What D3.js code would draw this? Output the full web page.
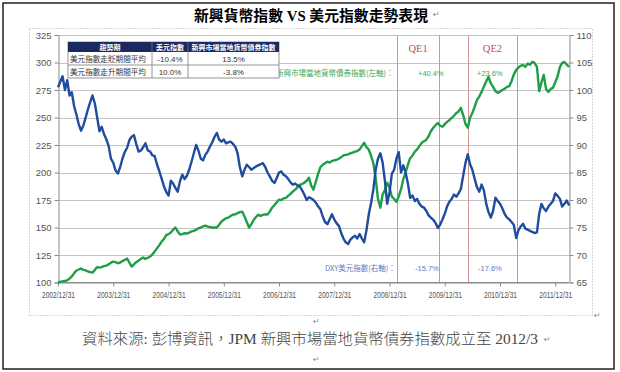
<!DOCTYPE html>
<html>
<head>
<meta charset="utf-8">
<script src="https://cdn.jsdelivr.net/npm/d3@7"></script>
<style>
body{margin:0;background:#fff;}
svg{display:block;}
</style>
</head>
<body>
<svg id="chart" width="620" height="372"></svg>
<script>
// tick labels
const xTickLabels = ["2002/12/31","2003/12/31","2004/12/31","2005/12/31","2006/12/31","2007/12/31","2008/12/31","2009/12/31","2010/12/31","2011/12/31"];
const leftTicks = [100,125,150,175,200,225,250,275,300,325];
const rightTicks = [65,70,75,80,85,90,95,100,105,110];

// half-monthly readings from 2002/12/31 to 2012/3/31
const dxyValues = [
  100.5,101.5,102.5,100.0,101.8,99.0,99.6,97.0,95.5,93.8,92.6,93.5,95.0,96.5,97.8,99.0,97.5,95.0,92.5,93.3,92.0,91.0,89.8,87.5,
  86.8,85.4,84.8,86.0,87.5,88.7,89.5,90.9,91.5,91.8,90.2,88.8,89.0,89.6,90.3,89.0,88.8,88.1,88.0,86.5,85.2,83.9,82.5,81.5,
  80.8,83.5,83.0,82.2,81.5,83.5,84.6,83.8,84.4,85.5,87.0,88.5,90.0,89.0,87.5,87.2,88.2,88.8,89.7,90.5,91.5,92.2,91.0,90.6,
  91.0,90.3,90.5,90.6,90.2,89.7,88.5,86.0,84.3,85.5,86.4,86.0,85.5,85.8,86.1,86.3,86.5,86.7,86.0,85.0,84.3,83.5,83.1,84.0,
  85.0,85.2,84.6,84.3,83.8,83.2,82.8,83.0,82.6,82.5,81.8,81.0,80.0,80.5,80.3,80.0,79.5,78.8,78.3,77.0,76.0,75.6,76.5,77.4,
  76.5,75.8,75.3,74.0,73.0,72.3,72.0,72.8,73.2,73.5,73.0,73.8,73.0,72.3,74.5,77.5,79.5,82.0,85.5,87.5,88.5,86.8,83.5,79.3,
  81.5,84.8,85.5,87.5,88.7,85.0,86.3,85.0,83.0,80.4,80.8,79.8,80.2,79.3,78.8,78.6,78.0,77.2,76.8,76.4,75.8,74.9,75.5,76.5,
  77.5,78.8,79.7,80.2,81.0,80.6,81.2,82.0,84.5,86.8,88.3,86.5,85.5,83.8,82.3,81.5,82.8,81.8,79.3,77.8,76.8,78.0,80.4,79.8,
  79.3,78.5,77.5,76.8,76.5,76.0,75.5,73.1,74.5,75.2,75.7,74.8,74.6,74.4,74.2,74.0,74.1,77.5,79.3,78.5,78.0,78.8,79.3,79.8,
  81.2,80.8,80.2,78.8,79.3,79.9,79.0
];
const emValues = [
  100.0,100.5,101.0,101.5,102.0,103.5,105.5,108.5,110.9,111.8,112.7,111.5,111.0,110.0,109.5,109.0,111.5,114.0,113.5,114.0,115.0,115.4,116.5,118.0,
  119.0,118.5,117.5,118.1,119.5,120.5,121.8,118.0,114.5,116.5,118.5,120.0,121.5,122.7,121.5,122.5,123.6,125.5,128.1,131.0,134.0,137.2,139.5,143.0,
  144.0,145.5,148.0,150.0,146.5,143.6,144.0,144.8,144.5,145.4,146.5,147.0,148.0,149.2,150.0,151.0,151.7,150.8,150.5,149.8,150.0,150.0,152.5,155.5,
  157.0,158.5,159.0,160.5,161.7,162.0,163.0,164.0,164.4,160.0,155.0,150.0,153.0,157.0,159.5,161.7,160.5,161.5,162.0,161.7,164.5,168.0,170.5,173.0,
  175.3,175.0,176.5,177.0,179.0,180.5,182.6,184.5,186.5,189.0,189.5,190.7,192.5,195.3,188.0,184.4,192.0,199.0,205.0,207.0,208.5,209.8,209.0,210.5,
  211.0,211.6,212.5,214.0,215.5,216.0,216.5,217.5,218.0,218.9,219.5,221.0,224.0,227.0,223.0,220.7,215.0,208.0,195.0,176.0,168.0,180.0,184.0,190.7,
  186.0,178.0,176.0,173.5,178.0,185.0,194.0,200.0,207.0,213.0,215.5,218.9,221.0,224.0,227.0,228.5,229.8,233.0,237.5,240.7,243.0,245.0,242.5,241.6,
  244.0,246.0,247.5,249.7,251.5,254.0,255.5,258.8,252.0,244.0,240.7,249.7,254.0,260.0,266.0,269.0,273.3,278.0,283.0,287.0,281.0,277.9,274.0,272.4,
  273.5,275.0,276.0,277.9,278.5,283.0,289.0,293.3,295.5,297.0,297.8,296.0,299.0,298.0,300.5,299.6,296.0,274.0,282.0,288.7,276.0,273.3,276.0,277.0,
  282.0,287.0,296.0,299.6,300.5,298.0,296.0
];

// QE period markers
const qeDates = ["2009/02/18","2009/11/23","2010/06/02","2011/04/22"];
const qeLabels = ["QE1","QE2"];
const emChanges = ["+40.4%","+23.6%"];
const dxyChanges = ["-15.7%","-17.6%"];

const tableHead = ["趨勢期","美元指數","新興市場當地貨幣債券指數"];
const tableRows = [
  ["美元指數走貶期間平均","-10.4%","13.5%"],
  ["美元指數走升期間平均","10.0%","-3.8%"]
];

const parse = d3.timeParse("%Y/%m/%d");
const start = parse("2002/12/31");
const dayOf = (i) => d3.timeDay.offset(start, Math.round(i * 365.25 / 24));

const svg = d3.select("#chart");
const numFont = "'Liberation Sans', Arial, sans-serif";
const cjkFont = "'Noto Sans CJK TC', sans-serif";
const serifFont = "'Liberation Serif', 'Noto Sans CJK TC', serif";

margin = {left: 58, right: 51, top: 35, bottom: 90};
const plotW = 620 - margin.left - margin.right;
const plotB = 372 - margin.bottom;

let x = d3.scaleTime()
    .domain([start, parse("2012/03/31")])
    .range([margin.left, margin.left + plotW]);
let yL = d3.scaleLinear().domain([100, 325]).range([plotB + 0.5, margin.top]);
let yR = d3.scaleLinear().domain([65, 110]).range([plotB + 0.5, margin.top]);

// outer page border and chart frame
svg.append("rect").attr("x", 3).attr("y", 3).attr("width", 611).attr("height", 366)
    .attr("fill", "none").attr("stroke", "#222").attr("stroke-width", 1.5);
svg.append("rect").attr("x", 29.5).attr("y", 28.5).attr("width", 563).attr("height", 287)
    .attr("fill", "none").attr("stroke", "#aaa").attr("stroke-dasharray", "1,2");

// title
svg.append("text").attr("x", 194).attr("y", 21)
    .attr("textLength", 234).attr("lengthAdjust", "spacingAndGlyphs")
    .style("font-family", serifFont).style("font-size", "15px").style("font-weight", "bold")
    .text("新興貨幣指數 VS 美元指數走勢表現");

// gridlines
svg.append("g").selectAll("line").data(leftTicks).enter().append("line")
    .attr("x1", margin.left).attr("x2", margin.left + plotW)
    .attr("y1", d => Math.round(yL(d)) + 0.5).attr("y2", d => Math.round(yL(d)) + 0.5)
    .attr("stroke", "#c4c4c4");

// QE markers
svg.append("g").selectAll("line").data(qeDates).enter().append("line")
    .attr("x1", d => Math.round(x(parse(d))) + 0.5).attr("x2", d => Math.round(x(parse(d))) + 0.5)
    .attr("y1", margin.top).attr("y2", plotB)
    .attr("stroke", "#d39593");

// axes
let yAxisL = d3.axisLeft(yL).tickValues(leftTicks).tickSize(4).tickPadding(3);
let yAxisR = d3.axisRight(yR).tickValues(rightTicks).tickSize(4).tickPadding(3);
let xAxis = d3.axisBottom(x).tickValues(xTickLabels.map(parse)).tickSize(4).tickPadding(5)
    .tickFormat(d3.timeFormat("%Y/%m/%d"));

const gl = svg.append("g").attr("transform", "translate(" + (margin.left + 0.5) + ",0)").call(yAxisL);
const gr = svg.append("g").attr("transform", "translate(" + (margin.left + plotW + 0.5) + ",0)").call(yAxisR);
const gx = svg.append("g").attr("transform", "translate(0," + (plotB + 0.5) + ")").call(xAxis);
[gl, gr, gx].forEach(g => {
    g.selectAll("path,line").attr("stroke", "#8c8c8c");
    g.selectAll("text").style("font-family", numFont).style("font-size", "9.5px").attr("fill", "#555");
});
gx.select(".domain").attr("d", "M" + margin.left + ",0H" + (margin.left + plotW));
gx.selectAll("text").attr("textLength", 33).attr("lengthAdjust", "spacingAndGlyphs")
    .attr("x", -16.5).style("text-anchor", "start").style("font-size", "9px");

// series
const lineL = d3.line().x((d, i) => x(dayOf(i))).y(d => yL(d));
const lineR = d3.line().x((d, i) => x(dayOf(i))).y(d => yR(d));
svg.append("path").datum(emValues).attr("d", lineL)
    .attr("fill", "none").attr("stroke", "#1f9e48").attr("stroke-width", 2.4).attr("stroke-linejoin", "round");
svg.append("path").datum(dxyValues).attr("d", lineR)
    .attr("fill", "none").attr("stroke", "#1f4c9e").attr("stroke-width", 2.4).attr("stroke-linejoin", "round");

// QE labels and change notes
const qeMid = [0, 2].map(k => (x(parse(qeDates[k])) + x(parse(qeDates[k + 1]))) / 2);
svg.append("g").selectAll("text").data(qeLabels).enter().append("text")
    .attr("x", (d, i) => qeMid[i]).attr("y", 52).style("text-anchor", "middle")
    .style("font-family", "'Liberation Serif', serif").style("font-size", "10.5px").attr("fill", "#c0504d")
    .text(d => d);

const noteStyle = (sel, color) => sel.style("font-family", cjkFont).style("font-size", "7.5px").attr("fill", color);
noteStyle(svg.append("text").attr("x", 276).attr("y", 76), "#3aa757").text("新興市場當地貨幣債券指數(左軸)：");
noteStyle(svg.append("g").selectAll("text").data(emChanges).enter().append("text")
    .attr("x", (d, i) => [418, 477][i]).attr("y", 76), "#3aa757").style("font-family", numFont).text(d => d);
noteStyle(svg.append("text").attr("x", 325).attr("y", 271), "#5a7dbf").text("DXY美元指數(右軸)：");
noteStyle(svg.append("g").selectAll("text").data(dxyChanges).enter().append("text")
    .attr("x", (d, i) => [415, 478][i]).attr("y", 271), "#5a7dbf").style("font-family", numFont).text(d => d);

// table
const colX = [68, 152, 188, 279];
const rowY = [42, 52, 65, 78];
const tbl = svg.append("g");
tbl.append("rect").attr("x", colX[0]).attr("y", rowY[0]).attr("width", colX[3] - colX[0]).attr("height", rowY[3] - rowY[0])
    .attr("fill", "#fff").attr("stroke", "#7a7a7a").attr("stroke-width", 0.8);
tbl.append("rect").attr("x", colX[0]).attr("y", rowY[0]).attr("width", colX[3] - colX[0]).attr("height", rowY[1] - rowY[0])
    .attr("fill", "#1a2960");
tbl.selectAll(".hl").data([rowY[2]]).enter().append("line")
    .attr("x1", colX[0]).attr("x2", colX[3]).attr("y1", d => d).attr("y2", d => d)
    .attr("stroke", "#7a7a7a").attr("stroke-width", 0.8);
tbl.selectAll(".vl").data([colX[1], colX[2]]).enter().append("line")
    .attr("x1", d => d).attr("x2", d => d).attr("y1", rowY[0]).attr("y2", rowY[3])
    .attr("stroke", "#7a7a7a").attr("stroke-width", 0.8);
tbl.selectAll(".th").data(tableHead).enter().append("text")
    .attr("x", (d, i) => (colX[i] + colX[i + 1]) / 2).attr("y", 50)
    .style("text-anchor", "middle").style("font-family", cjkFont).style("font-size", "7px")
    .style("font-weight", "bold").attr("fill", "#fff").text(d => d);
tableRows.forEach((row, r) => {
    tbl.selectAll(".td" + r).data(row).enter().append("text")
        .attr("x", (d, i) => i == 0 ? colX[0] + 2 : (colX[i] + colX[i + 1]) / 2)
        .attr("y", (rowY[r + 1] + rowY[r + 2]) / 2 + 3)
        .style("text-anchor", (d, i) => i == 0 ? "start" : "middle")
        .style("font-family", (d, i) => i == 0 ? cjkFont : numFont)
        .style("font-size", (d, i) => i == 0 ? "7.6px" : "8px")
        .attr("fill", "#333").text(d => d);
});

// source note
svg.append("text").attr("x", 82).attr("y", 344)
    .attr("textLength", 456).attr("lengthAdjust", "spacingAndGlyphs")
    .style("font-family", serifFont).style("font-size", "15px").style("font-weight", 300).attr("fill", "#444")
    .text("資料來源: 彭博資訊，JPM 新興市場當地貨幣債券指數成立至 2012/3");

// paragraph marks
const marks = [[433, 17], [594, 318], [313, 324], [544, 342], [313, 362]];
svg.append("g").selectAll("text").data(marks).enter().append("text")
    .attr("x", d => d[0]).attr("y", d => d[1])
    .style("font-family", "'DejaVu Sans', sans-serif").style("font-size", "8px").attr("fill", "#888")
    .text("\u21B5");
</script>
</body>
</html>
